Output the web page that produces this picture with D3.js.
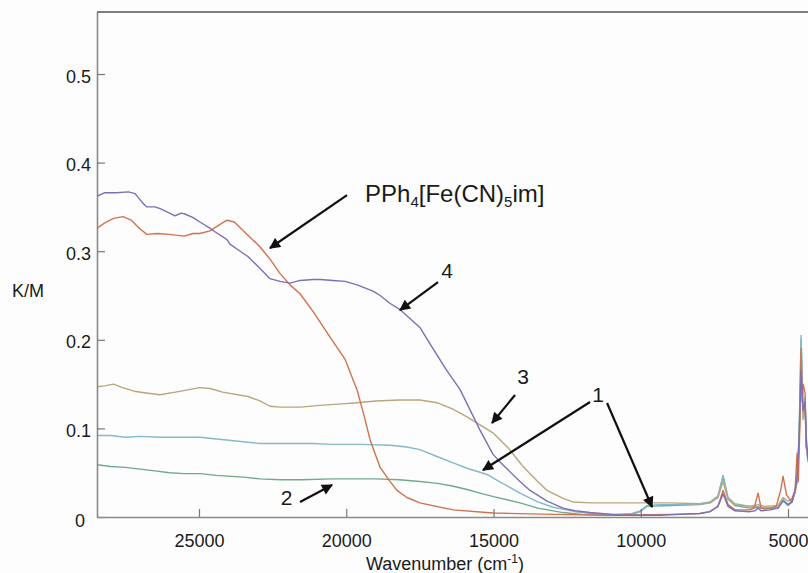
<!DOCTYPE html>
<html>
<head>
<meta charset="utf-8">
<script src="https://cdn.jsdelivr.net/npm/d3@7"></script>
<style>
  html, body { margin: 0; padding: 0; background: #fdfdfd; }
  svg { display: block; }
  text { font-family: "Liberation Sans", Arial, sans-serif; fill: #1a1a1a; }
</style>
</head>
<body>
<svg id="main_plot" width="808" height="573"></svg>
<script>
// Spectra: [wavenumber (cm-1), K/M]
var curve4 = [[28460,0.362],[28200,0.366],[27800,0.366],[27400,0.367],[27170,0.365],[26900,0.354],[26770,0.350],[26500,0.350],
    [26320,0.348],[26000,0.343],[25820,0.340],[25600,0.343],[25480,0.342],[25200,0.338],[24970,0.333],[24630,0.326],[24460,0.322],
    [24050,0.313],[23950,0.308],[23600,0.300],[23340,0.294],[23000,0.283],[22590,0.269],[22250,0.266],[21910,0.264],[21570,0.267],
    [21130,0.268],[20890,0.268],[20450,0.267],[20040,0.266],[19630,0.262],[19090,0.255],[18850,0.250],[18510,0.241],[18170,0.234],
    [17500,0.214],[17150,0.195],[16600,0.166],[16140,0.144],[15900,0.128],[15460,0.098],[15020,0.071],[14780,0.062],[14100,0.040],
    [13760,0.030],[13180,0.018],[12640,0.010],[12230,0.007],[11720,0.005],[10700,0.002],[10020,0.002],[9350,0.002],[8670,0.003],
    [7990,0.004],[7650,0.006],[7380,0.012],[7205,0.026],[7035,0.012],[6800,0.007],[6290,0.006],[6120,0.007],[6016,0.010],[5915,0.007],
    [5610,0.008],[5340,0.010],[5168,0.018],[5000,0.014],[4860,0.017],[4760,0.030],[4692,0.045],[4624,0.090],[4556,0.165],[4488,0.120],
    [4420,0.130],[4380,0.090],[4320,0.065]];

var curvePPh4 = [[28460,0.326],[28200,0.332],[27900,0.337],[27580,0.339],[27300,0.335],[27000,0.325],[26770,0.319],[26400,0.320],
    [26000,0.319],[25500,0.317],[25200,0.320],[24970,0.320],[24630,0.323],[24300,0.330],[24050,0.335],[23800,0.333],[23340,0.318],
    [22930,0.305],[22590,0.291],[22250,0.275],[21910,0.262],[21570,0.252],[21130,0.232],[20550,0.203],[20040,0.178],[19630,0.143],
    [19400,0.115],[19190,0.087],[18850,0.056],[18510,0.040],[18280,0.030],[17940,0.022],[17500,0.016],[16370,0.008],[15020,0.0045],
    [13000,0.003],[11000,0.002],[9000,0.003],[7990,0.004],[7650,0.006],[7380,0.012],[7205,0.030],[7035,0.014],[6800,0.008],[6290,0.008],
    [6150,0.010],[6016,0.027],[5915,0.010],[5610,0.010],[5400,0.012],[5250,0.030],[5168,0.046],[5050,0.025],[4900,0.018],[4760,0.030],
    [4692,0.072],[4650,0.040],[4600,0.100],[4556,0.190],[4520,0.130],[4488,0.150],[4420,0.140],[4380,0.080],[4320,0.070]];

var curve3 = [[28460,0.147],[28200,0.148],[27900,0.150],[27600,0.146],[27200,0.142],[26800,0.140],[26330,0.138],[25800,0.141],
    [25300,0.144],[24970,0.146],[24630,0.145],[24200,0.141],[23340,0.136],[22930,0.131],[22590,0.125],[22250,0.124],[21570,0.124],
    [20890,0.126],[20040,0.128],[19630,0.129],[19000,0.131],[18200,0.132],[17500,0.132],[16920,0.129],[16400,0.122],[15900,0.113],
    [15460,0.104],[15020,0.095],[14500,0.078],[14000,0.057],[13500,0.040],[13180,0.030],[12640,0.021],[12300,0.017],[11700,0.016],
    [11000,0.016],[10000,0.016],[9000,0.016],[8000,0.015],[7650,0.016],[7380,0.022],[7205,0.040],[7035,0.020],[6800,0.014],[6300,0.012],
    [6016,0.014],[5800,0.012],[5340,0.013],[5168,0.022],[5000,0.018],[4860,0.020],[4760,0.028],[4692,0.040],[4624,0.080],[4556,0.170],
    [4488,0.110],[4420,0.125],[4380,0.080],[4320,0.065]];

var curve1 = [[28460,0.092],[28000,0.092],[27500,0.090],[27000,0.091],[26330,0.090],[25800,0.090],[25300,0.090],[24970,0.090],
    [24400,0.088],[23500,0.085],[22930,0.083],[22250,0.083],[21130,0.083],[20500,0.082],[19500,0.082],[18510,0.081],[17940,0.079],
    [17500,0.076],[16900,0.068],[16370,0.061],[15900,0.055],[15220,0.048],[14800,0.040],[14100,0.027],[13500,0.017],[12980,0.011],
    [12230,0.006],[11700,0.004],[11000,0.003],[10300,0.004],[10020,0.007],[9790,0.013],[9350,0.014],[8670,0.014],[7990,0.015],
    [7650,0.017],[7380,0.024],[7205,0.047],[7035,0.022],[6800,0.015],[6290,0.012],[6016,0.012],[5800,0.010],[5340,0.011],[5168,0.020],
    [5000,0.014],[4860,0.018],[4760,0.030],[4692,0.042],[4624,0.090],[4556,0.205],[4488,0.120],[4420,0.135],[4380,0.080],[4320,0.064]];

var curve2 = [[28460,0.059],[28000,0.057],[27500,0.056],[27000,0.054],[26500,0.052],[26000,0.050],[25500,0.049],[24970,0.049],
    [24400,0.047],[23500,0.045],[22930,0.043],[22250,0.042],[21500,0.042],[20500,0.043],[19970,0.043],[19000,0.043],[18200,0.042],
    [17500,0.040],[16900,0.038],[16400,0.035],[15900,0.031],[15460,0.027],[15000,0.023],[14100,0.016],[13500,0.010],[12640,0.005],
    [12000,0.003],[11000,0.002],[10300,0.003],[10020,0.006],[9790,0.012],[9000,0.013],[8000,0.014],[7650,0.016],[7380,0.022],
    [7205,0.046],[7035,0.020],[6800,0.013],[6290,0.010],[6016,0.011],[5800,0.009],[5340,0.010],[5168,0.019],[5000,0.013],[4860,0.017],
    [4760,0.028],[4692,0.040],[4624,0.085],[4556,0.200],[4488,0.115],[4420,0.130],[4380,0.080],[4320,0.062]];

var seriesNames = ['2', '1', '3', 'PPh4', '4'];
var seriesData = [curve2, curve1, curve3, curvePPh4, curve4];
var seriesColors = ['#72a98a', '#84b8cb', '#b9a67c', '#d2714d', '#7a70b6'];

var xTicks = [25000, 20000, 15000, 10000, 5000];
var yTicks = [0, 0.1, 0.2, 0.3, 0.4, 0.5];

// Annotation labels and arrows, in data units: [x, y] and [x1, y1, x2, y2]
var labelText = ['4', '3', '1', '2'];
var labelPos = [[16578, 0.2698], [13997, 0.1505], [11450, 0.1298], [22029, 0.0135]];
var arrows = [[19974, 0.3634, 22589, 0.3036], [16884, 0.2652, 18174, 0.2336], [14269, 0.1377, 15050, 0.1061],
    [11722, 0.1298, 15356, 0.0530], [11144, 0.1287, 9616, 0.0113], [21570, 0.0169, 20484, 0.0361]];
var complexPos = [19363, 0.3555];

function drawPlot() {
    var svg = d3.select('#main_plot');
    var mLeft = 97, mRight = 808, mTop = 12, mBottom = 517;

    var x = d3.scaleLinear().domain([28464, 4321]).range([mLeft, mRight]);
    var y = d3.scaleLinear().domain([0, 0.57]).range([mBottom, mTop]);

    var defs = svg.append('defs');
    defs.append('clipPath').attr('id', 'plotclip')
        .append('rect').attr('x', mLeft).attr('y', mTop)
        .attr('width', mRight - mLeft).attr('height', mBottom - mTop);

    defs.append('marker')
        .attr('id', 'head')
        .attr('viewBox', '0 0 10 10')
        .attr('refX', 9).attr('refY', 5)
        .attr('markerWidth', 6).attr('markerHeight', 5)
        .attr('markerUnits', 'strokeWidth')
        .attr('orient', 'auto')
        .append('path').attr('d', 'M0,0 L10,5 L0,10 z').attr('fill', '#111');

    // spectra
    var line = d3.line()
        .x(function (d) { return x(d[0]); })
        .y(function (d) { return y(d[1]); });

    svg.append('g').attr('clip-path', 'url(#plotclip)')
        .selectAll('path').data(seriesData)
        .enter().append('path')
        .attr('d', line)
        .attr('fill', 'none')
        .attr('stroke', function (d, i) { return seriesColors[i]; })
        .attr('stroke-width', 1.4)
        .attr('stroke-linejoin', 'round');

    // axes
    var yAxis = d3.axisLeft(y).tickValues(yTicks).tickSizeInner(-8).tickSizeOuter(0).tickPadding(6)
        .tickFormat(function (d) { return d === 0 ? '0' : d.toFixed(1); });
    var xAxis = d3.axisBottom(x).tickValues(xTicks).tickSizeInner(-8).tickSizeOuter(0).tickPadding(17)
        .tickFormat(d3.format('d'));

    var gy = svg.append('g').attr('transform', 'translate(' + mLeft + ',0)').call(yAxis);
    var gx = svg.append('g').attr('transform', 'translate(0,' + mBottom + ')').call(xAxis);

    [gx, gy].forEach(function (g) {
        g.select('.domain').attr('stroke', '#8a8a8a').attr('stroke-width', 1.6);
        g.selectAll('.tick line').attr('stroke', '#777').attr('stroke-width', 1.2);
        g.selectAll('.tick text').attr('font-size', 18).attr('font-family', '"Liberation Sans", Arial, sans-serif')
            .attr('fill', '#1a1a1a');
    });
    gy.selectAll('.tick text').attr('dy', '0.45em');
    // the zero label sits a little further out in the original
    gy.selectAll('.tick text').filter(function (d) { return d === 0; }).attr('x', -12).attr('dy', '0.55em');

    // top border
    svg.append('line')
        .attr('x1', mLeft).attr('x2', mRight).attr('y1', mTop).attr('y2', mTop)
        .attr('stroke', '#555').attr('stroke-width', 1.6);

    // axis titles
    svg.append('text').attr('x', 12).attr('y', 297).attr('font-size', 18).text('K/M');

    var xt = svg.append('text').attr('x', 445).attr('y', 570).attr('font-size', 18).attr('text-anchor', 'middle');
    xt.append('tspan').text('Wavenumber (cm');
    xt.append('tspan').attr('font-size', 12).attr('dy', -7).text('-1');
    xt.append('tspan').attr('dy', 7).text(')');

    // annotations
    svg.append('g').selectAll('line').data(arrows)
        .enter().append('line')
        .attr('x1', function (d) { return x(d[0]); })
        .attr('y1', function (d) { return y(d[1]); })
        .attr('x2', function (d) { return x(d[2]); })
        .attr('y2', function (d) { return y(d[3]); })
        .attr('stroke', '#111')
        .attr('stroke-width', 2.2)
        .attr('marker-end', 'url(#head)');

    svg.append('g').selectAll('text').data(labelText)
        .enter().append('text')
        .attr('x', function (d, i) { return x(labelPos[i][0]); })
        .attr('y', function (d, i) { return y(labelPos[i][1]); })
        .attr('text-anchor', 'middle')
        .attr('font-size', 21)
        .text(function (d) { return d; });

    var ct = svg.append('text')
        .attr('x', x(complexPos[0])).attr('y', y(complexPos[1]))
        .attr('font-size', 24);
    ct.append('tspan').text('PPh');
    ct.append('tspan').attr('font-size', 15).attr('dy', 5).text('4');
    ct.append('tspan').attr('dy', -5).text('[Fe(CN)');
    ct.append('tspan').attr('font-size', 15).attr('dy', 5).text('5');
    ct.append('tspan').attr('dy', -5).text('im]');
}

drawPlot();
</script>
</body>
</html>
